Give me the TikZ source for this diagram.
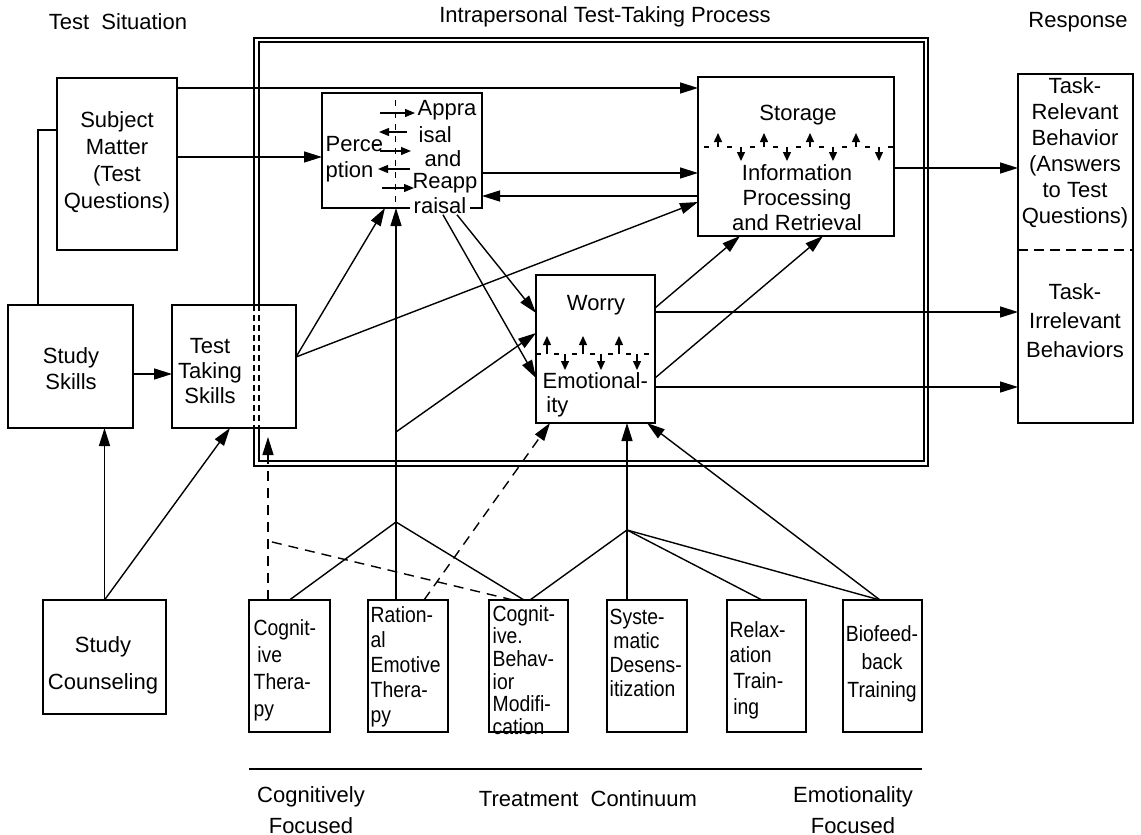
\documentclass[tikz,border=0pt]{standalone}
\usepackage{fontspec}
\setmainfont{Liberation Sans}
\newfontfamily\condf[FakeStretch=0.88]{Liberation Sans}
\usetikzlibrary{arrows.meta}
\begin{document}
\begin{tikzpicture}[x=0.5pt,y=-0.5pt,line width=0.7pt,
  bx/.style={draw,rectangle,inner sep=0pt,outer sep=0pt},
  lbl/.style={inner sep=0pt,font=\fontsize{11}{13.5}\selectfont,align=center},
  bt/.style={inner sep=0pt,anchor=west,align=left},
  arr/.style={-{Triangle[length=9pt,width=5.5pt]}},
  sarr/.style={-{Triangle[length=5pt,width=4pt]},line width=0.6pt},
  varr/.style={-{Triangle[length=4.5pt,width=4pt]},line width=0.7pt},
  dsh/.style={dash pattern=on 5pt off 3.5pt}]
\useasboundingbox (0,0) rectangle (1141,835);

% titles
\node[lbl] (tsit) at (118,22) {Test\ \ Situation};
\node[lbl] (tproc) at (605,17) {Intrapersonal Test-Taking Process};
\node[lbl] (tresp) at (1078,22) {Response};

% double frame
\draw (254,38) rectangle (928,466);
\draw (259,42) rectangle (924,461);

% boxes
\node[bx,minimum width=60pt,minimum height=86pt] (subj) at (117,164) {};
\node[bx,minimum width=62.5pt,minimum height=61.5pt] (study) at (70.5,366.5) {};
\node[bx,fill=white,minimum width=62pt,minimum height=61.5pt] (tts) at (234,366.5) {};
\draw[dash pattern=on 3pt off 2pt] (254,0 |- tts.north) -- (254,0 |- tts.south);
\draw[dash pattern=on 3pt off 2pt] (259,0 |- tts.north) -- (259,0 |- tts.south);
\node[bx,minimum width=61.5pt,minimum height=57pt] (couns) at (104.5,657) {};
\node[bx,minimum width=80pt,minimum height=57.5pt] (perc) at (402,150.5) {};
\node[bx,minimum width=98pt,minimum height=79.5pt] (stor) at (796,156.5) {};
\node[bx,minimum width=57.5pt,minimum height=174.5pt] (resp) at (1075.5,248.5) {};
\node[bx,minimum width=59.5pt,minimum height=74pt] (worry) at (595.5,349) {};
\node[bx,minimum width=40.5pt,minimum height=66pt] (ct) at (289.5,666) {};
\node[bx,minimum width=40pt,minimum height=66pt] (ret) at (408,666) {};
\node[bx,minimum width=39.5pt,minimum height=66pt] (cbm) at (528.5,666) {};
\node[bx,minimum width=40pt,minimum height=66pt] (sd) at (647,666) {};
\node[bx,minimum width=39.5pt,minimum height=66pt] (rt) at (766.5,666) {};
\node[bx,minimum width=39.5pt,minimum height=66pt] (bf) at (882.5,666) {};

% box texts
\node[lbl] (subjt) at (117,162) {Subject\\Matter\\(Test\\Questions)};
\node[lbl,font=\fontsize{11}{13}\selectfont] (studyt) at (71,369) {Study\\Skills};
\node[lbl,font=\fontsize{11}{12.5}\selectfont] (ttst) at (210,371) {Test\\Taking\\Skills};
\node[lbl,font=\fontsize{11}{18.5}\selectfont] (counst) at (103,665) {Study\\Counseling};
\node[lbl,anchor=west] (pc1) at (325,144) {Perce};
\node[lbl,anchor=west] (pc2) at (325,172) {ption};
\node[lbl] (ap1) at (447,110) {Appra};
\node[lbl,anchor=west] (ap2) at (418,135) {isal};
\node[lbl] (ap3) at (443,159) {and};
\node[lbl] (ap4) at (445,183) {Reapp};
\node[lbl,fill=white,inner xsep=2pt] (rs) at (440,206) {raisal};
\node[lbl] (st1) at (798,115) {Storage};
\node[lbl,font=\fontsize{11}{12.5}\selectfont] (st2) at (797,198) {Information\\Processing\\and Retrieval};
\node[lbl] (w1) at (596,305) {Worry};
\node[lbl,anchor=west,align=left,font=\fontsize{11}{12}\selectfont] (w2) at (542,395) {Emotional-\\\,ity};
\node[lbl,font=\fontsize{11}{13}\selectfont] (rt1) at (1075,153) {Task-\\Relevant\\Behavior\\(Answers\\to Test\\Questions)};
\node[lbl,font=\fontsize{11}{14.5}\selectfont] (rt2) at (1075,321) {Task-\\Irrelevant\\Behaviors};
\draw[dash pattern=on 5pt off 3pt] (resp.west |- 0,250) -- (resp.east |- 0,250);

\node[bt,font=\condf\fontsize{11}{13.5}\selectfont] (ctt) at (253,670) {Cognit-\\\,ive\\Thera-\\py};
\node[bt,font=\condf\fontsize{11}{12.5}\selectfont] (rett) at (370,667) {Ration-\\al\\Emotive\\Thera-\\py};
\node[bt,font=\condf\fontsize{11}{11.3}\selectfont] (cbmt) at (492,670) {Cognit-\\ive.\\Behav-\\ior\\Modifi-\\cation};
\node[bt,font=\condf\fontsize{11}{12}\selectfont] (sdt) at (609,653) {Syste-\\\,matic\\Desens-\\itization};
\node[bt,font=\condf\fontsize{11}{12.8}\selectfont] (rtt) at (729,670) {Relax-\\ation\\\,Train-\\\,ing};
\node[lbl,font=\condf\fontsize{11}{14}\selectfont] (bft) at (882,664) {Biofeed-\\back\\Training};

% bottom labels
\draw (ct.west |- 0,769) -- (bf.east |- 0,769);
\node[lbl,font=\fontsize{11}{15.5}\selectfont] (cf) at (311,810) {Cognitively\\Focused};
\node[lbl] (tc) at (588,799) {Treatment\ \ Continuum};
\node[lbl,font=\fontsize{11}{15.5}\selectfont] (ef) at (853,810) {Emotionality\\Focused};

% internal arrows: perception/appraisal
\draw[dash pattern=on 3pt off 3pt,line width=0.5pt] (395,100) -- (395,0 |- perc.south);
\draw[sarr] (380,113) -- (415,113);
\draw[sarr] (407,132) -- (379,132);
\draw[sarr] (380,151) -- (411,151);
\draw[sarr] (410,169) -- (378,169);
\draw[sarr] (382,188) -- (414,188);
\draw[line width=0.6pt] (372,145) -- (379,145);

% internal arrows: storage
\foreach \i in {0,2,4,6} \draw[varr] ({718+23*\i},147) -- ({718+23*\i},133);
\foreach \i in {1,3,5,7} \draw[varr] ({718+23*\i},147) -- ({718+23*\i},161);
\foreach \i in {0,...,8} \draw[line width=0.7pt] ({704+23*\i},147) -- ({709+23*\i},147);

% internal arrows: worry
\foreach \i in {0,2,4} \draw[varr] ({547+18*\i},354) -- ({547+18*\i},336);
\foreach \i in {1,3,5} \draw[varr] ({547+18*\i},354) -- ({547+18*\i},370);
\foreach \i in {0,...,6} \draw[line width=0.7pt] ({536+18*\i},354) -- ({541+18*\i},354);

% coordinates
\coordinate (capex) at (396,522);
\coordinate (eapex) at (627,530);
\coordinate (dj) at (268,541);
\coordinate (vj) at (396,432);
\coordinate (ttsarr) at (268,437);

% connectors: test situation
\draw (subj.west |- 0,130) -| (38,0 |- study.north);
\draw[arr] (subj.east |- 0,88) -- (stor.west |- 0,88);
\draw[arr] (subj.east |- 0,157) -- (perc.west |- 0,157);
\draw[arr] (study.east |- 0,374) -- (tts.west |- 0,374);
\draw[arr] (couns.north) -- (study.south -| couns.north);
\draw[arr] (couns.north) -- (230,0 |- tts.south);
\draw[arr] (tts.east |- 0,357) -- (385,0 |- perc.south);
\draw[arr] (tts.east |- 0,357) -- (stor.west |- 0,202);

% connectors: process
\draw[arr] (perc.east |- 0,173) -- (stor.west |- 0,173);
\draw[arr] (stor.west |- 0,196) -- (perc.east |- 0,196);
\draw[arr] (443,0 |- rs.south) -- (worry.west |- 0,378);
\draw[arr] (457,0 |- rs.south) -- (worry.west |- 0,313);
\draw[arr] (worry.east |- 0,308) -- (740,0 |- stor.south);
\draw[arr] (worry.east |- 0,378) -- (823,0 |- stor.south);
\draw[arr] (worry.east |- 0,312) -- (resp.west |- 0,312);
\draw[arr] (worry.east |- 0,387) -- (resp.west |- 0,387);
\draw[arr] (stor.east |- 0,168) -- (resp.west |- 0,168);

% connectors: treatments
\draw[arr] (396,0 |- ret.north) -- (396,0 |- perc.south);
\draw (ct.north) -- (capex) -- (524,0 |- cbm.north);
\draw[arr] (vj) -- (worry.west |- 0,333);
\draw[arr] (627,0 |- sd.north) -- (627,0 |- worry.south);
\draw (530,0 |- cbm.north) -- (eapex) -- (762,0 |- rt.north);
\draw (eapex) -- (880,0 |- bf.north);
\draw[arr] (880,0 |- bf.north) -- (647,0 |- worry.south);
\draw[dsh,arr] (424,0 |- ret.north) -- (550,0 |- worry.south);
\draw[dsh,arr] (268,0 |- ct.north) -- (ttsarr);
\draw[dsh] (513,0 |- cbm.north) -- (dj);
\end{tikzpicture}
\end{document}
